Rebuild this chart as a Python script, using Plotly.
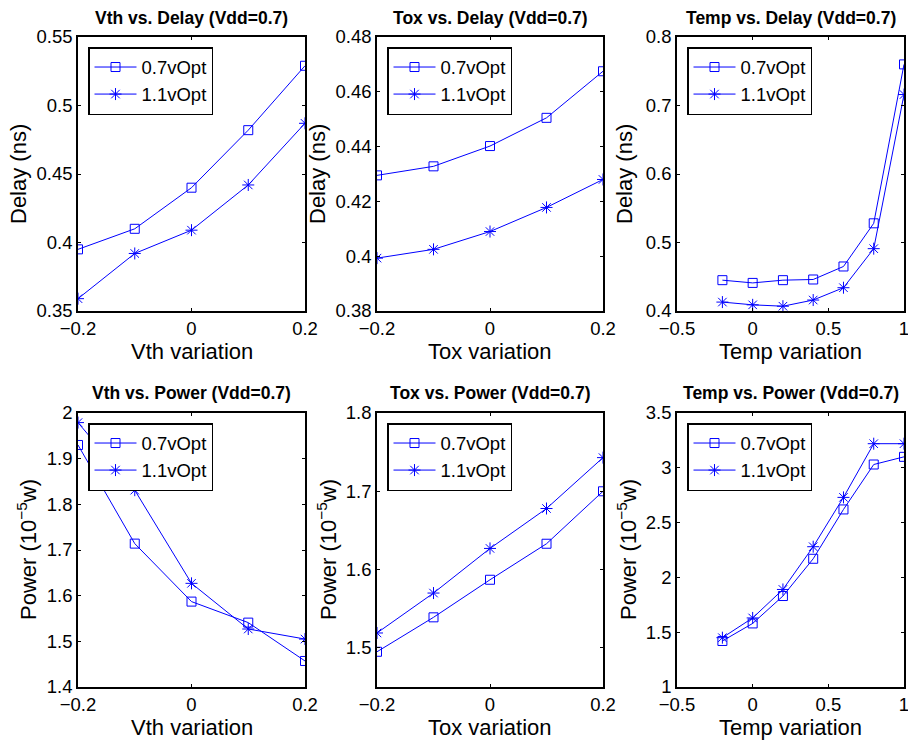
import plotly.graph_objects as go

# ---------------- data ----------------
vth_x = [-0.2, -0.1, 0.0, 0.1, 0.2]
tox_x = [-0.2, -0.1, 0.0, 0.1, 0.2]
temp_x = [-0.2, 0.0, 0.2, 0.4, 0.6, 0.8, 1.0]

series_names = ["0.7vOpt", "1.1vOpt"]

vth_delay_07 = [0.395, 0.410, 0.440, 0.482, 0.529]
vth_delay_11 = [0.359, 0.392, 0.409, 0.442, 0.487]

tox_delay_07 = [0.4295, 0.4328, 0.4402, 0.4505, 0.4675]
tox_delay_11 = [0.3993, 0.4025, 0.4090, 0.4178, 0.4280]

temp_delay_07 = [0.445, 0.441, 0.445, 0.446, 0.465, 0.528, 0.760]
temp_delay_11 = [0.413, 0.409, 0.407, 0.416, 0.434, 0.491, 0.716]

vth_power_07 = [1.930, 1.714, 1.587, 1.541, 1.457]
vth_power_11 = [1.979, 1.831, 1.627, 1.527, 1.505]

tox_power_07 = [1.495, 1.539, 1.587, 1.633, 1.700]
tox_power_11 = [1.519, 1.570, 1.627, 1.678, 1.743]

temp_power_07 = [1.42, 1.58, 1.83, 2.17, 2.62, 3.03, 3.10]
temp_power_11 = [1.45, 1.63, 1.89, 2.28, 2.73, 3.22, 3.22]

titles = ["Vth vs. Delay (Vdd=0.7)", "Tox vs. Delay (Vdd=0.7)", "Temp vs. Delay (Vdd=0.7)",
          "Vth vs. Power (Vdd=0.7)", "Tox vs. Power (Vdd=0.7)", "Temp vs. Power (Vdd=0.7)"]
xlabels = ["Vth variation", "Tox variation", "Temp variation"] * 2
ylabels = ["Delay (ns)"] * 3 + ["Power (10<sup>−5</sup>w)"] * 3

panels = [
    (vth_x, vth_delay_07, vth_delay_11),
    (tox_x, tox_delay_07, tox_delay_11),
    (temp_x, temp_delay_07, temp_delay_11),
    (vth_x, vth_power_07, vth_power_11),
    (tox_x, tox_power_07, tox_power_11),
    (temp_x, temp_power_07, temp_power_11),
]

x_ranges = [[-0.2, 0.2], [-0.2, 0.2], [-0.5, 1.0]] * 2
x_dticks = [0.2, 0.2, 0.5] * 2
y_ranges = [[0.35, 0.55], [0.38, 0.48], [0.4, 0.8], [1.4, 2.0], [1.45, 1.8], [1.0, 3.5]]
y_dticks = [0.05, 0.02, 0.1, 0.1, 0.1, 0.5]
y_tick0 = [0.35, 0.38, 0.4, 1.4, 1.5, 1.0]

# ---------------- layout geometry ----------------
W, H = 908, 742
col_px = [(78, 305), (377, 603), (677, 904)]
row_px = [(37, 311), (413, 687)]
title_y_px = [18, 393]
xlab_y_px = [351, 727]
ylab_x_px = [[19, 318, 625], [27, 327, 627]]

FONT = "Liberation Sans, Arial, Helvetica, sans-serif"
BLUE = "#0000ff"

fig = go.Figure()
annotations = []
layout = dict(
    template="none",
    width=W, height=H,
    margin=dict(l=0, r=0, t=0, b=0, autoexpand=False),
    paper_bgcolor="white", plot_bgcolor="white",
    font=dict(family=FONT, size=18, color="black"),
    showlegend=True,
)

for i, (xs, y07, y11) in enumerate(panels):
    r, c = divmod(i, 3)
    n = i + 1
    xa = "x" if n == 1 else f"x{n}"
    ya = "y" if n == 1 else f"y{n}"
    lg = "legend" if n == 1 else f"legend{n}"
    x0, x1 = col_px[c]
    yt, yb = row_px[r]
    axis_common = dict(
        showline=True, linecolor="black", linewidth=1.5, mirror="ticks",
        ticks="inside", ticklen=3, tickcolor="black", tickwidth=1,
        showgrid=False, zeroline=False, automargin=False,
        ticklabeloverflow="allow",
        tickfont=dict(family=FONT, size=18.5, color="black"),
    )
    layout["xaxis" if n == 1 else f"xaxis{n}"] = dict(
        domain=[x0 / W, x1 / W], anchor=ya, range=x_ranges[i],
        tick0=0, dtick=x_dticks[i], **axis_common)
    layout["yaxis" if n == 1 else f"yaxis{n}"] = dict(
        domain=[1 - yb / H, 1 - yt / H], anchor=xa, range=y_ranges[i],
        tick0=y_tick0[i], dtick=y_dticks[i], **axis_common)
    layout[lg] = dict(
        x=(x0 + 10) / W, y=1 - (yt + 10) / H, xanchor="left", yanchor="top",
        xref="paper", yref="paper",
        bgcolor="white", bordercolor="black", borderwidth=1.5,
        font=dict(family=FONT, size=18.5, color="black"),
        itemwidth=42, tracegroupgap=0,
    )
    for name, ys, sym, sz in [(series_names[0], y07, "square-open", 9),
                              (series_names[1], y11, "asterisk-open", 10)]:
        fig.add_trace(go.Scatter(
            x=xs, y=ys, mode="lines+markers", name=name,
            xaxis=xa, yaxis=ya, legend=lg,
            line=dict(color=BLUE, width=1),
            marker=dict(symbol=sym, size=sz, color=BLUE, line=dict(color=BLUE, width=1)),
        ))
    cx = (x0 + x1) / 2 / W
    annotations.append(dict(text=f"<b>{titles[i]}</b>", x=cx, y=1 - title_y_px[r] / H,
                            xref="paper", yref="paper", showarrow=False,
                            xanchor="center", yanchor="middle",
                            font=dict(family=FONT, size=17.5, color="black")))
    annotations.append(dict(text=xlabels[i], x=cx, y=1 - xlab_y_px[r] / H,
                            xref="paper", yref="paper", showarrow=False,
                            xanchor="center", yanchor="middle",
                            font=dict(family=FONT, size=22, color="black")))
    annotations.append(dict(text=ylabels[i], x=ylab_x_px[r][c] / W, y=1 - (yt + yb) / 2 / H,
                            xref="paper", yref="paper", showarrow=False, textangle=-90,
                            xanchor="center", yanchor="middle",
                            font=dict(family=FONT, size=22, color="black")))

layout["annotations"] = annotations
fig.update_layout(**layout)
fig.write_html(
    "out.html",
    config={"displayModeBar": False},
    post_script="document.body.style.margin='0';document.body.style.overflow='hidden';",
)
